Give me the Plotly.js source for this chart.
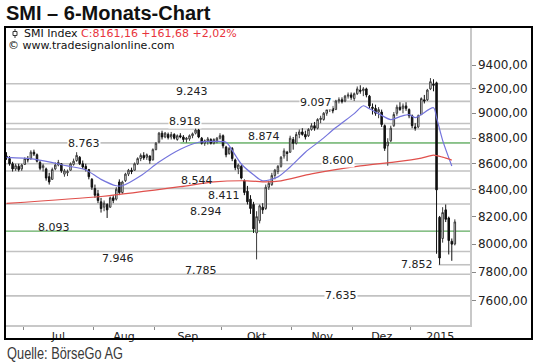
<!DOCTYPE html>
<html><head><meta charset="utf-8">
<script src="https://cdn.plot.ly/plotly-3.0.1.min.js"></script>
<style>html,body{margin:0;padding:0;background:#fff;}#chart{width:540px;height:363px;}</style>
</head><body><div id="chart"></div>
<script>
// ---------- data ----------
const dates = [
'2014-06-23','2014-06-24','2014-06-25','2014-06-26','2014-06-27','2014-06-30',
'2014-07-01','2014-07-02','2014-07-03','2014-07-04','2014-07-07','2014-07-08','2014-07-09','2014-07-10','2014-07-11','2014-07-14','2014-07-15','2014-07-16','2014-07-17','2014-07-18','2014-07-21','2014-07-22','2014-07-23','2014-07-24','2014-07-25','2014-07-28','2014-07-29','2014-07-30','2014-07-31',
'2014-08-04','2014-08-05','2014-08-06','2014-08-07','2014-08-08','2014-08-11','2014-08-12','2014-08-13','2014-08-14','2014-08-15','2014-08-18','2014-08-19','2014-08-20','2014-08-21','2014-08-22','2014-08-25','2014-08-26','2014-08-27','2014-08-28','2014-08-29',
'2014-09-01','2014-09-02','2014-09-03','2014-09-04','2014-09-05','2014-09-08','2014-09-09','2014-09-10','2014-09-11','2014-09-12','2014-09-15','2014-09-16','2014-09-17','2014-09-18','2014-09-19','2014-09-22','2014-09-23','2014-09-24','2014-09-25','2014-09-26','2014-09-29','2014-09-30',
'2014-10-01','2014-10-02','2014-10-03','2014-10-06','2014-10-07','2014-10-08','2014-10-09','2014-10-10','2014-10-13','2014-10-14','2014-10-15','2014-10-16','2014-10-17','2014-10-20','2014-10-21','2014-10-22','2014-10-23','2014-10-24','2014-10-27','2014-10-28','2014-10-29','2014-10-30','2014-10-31',
'2014-11-03','2014-11-04','2014-11-05','2014-11-06','2014-11-07','2014-11-10','2014-11-11','2014-11-12','2014-11-13','2014-11-14','2014-11-17','2014-11-18','2014-11-19','2014-11-20','2014-11-21','2014-11-24','2014-11-25','2014-11-26','2014-11-27','2014-11-28',
'2014-12-01','2014-12-02','2014-12-03','2014-12-04','2014-12-05','2014-12-08','2014-12-09','2014-12-10','2014-12-11','2014-12-12','2014-12-15','2014-12-16','2014-12-17','2014-12-18','2014-12-19','2014-12-22','2014-12-23','2014-12-29','2014-12-30',
'2015-01-05','2015-01-06','2015-01-07','2015-01-08','2015-01-09','2015-01-12','2015-01-13','2015-01-14','2015-01-15','2015-01-16','2015-01-19','2015-01-20','2015-01-21','2015-01-22','2015-01-23'
];
const open = [
8660,8640,8600,8560,8580,8560,
8595,8640,8640,8690,8670,8610,8570,8560,8500,8480,8560,8590,8600,8520,8530,8550,8595,8625,8650,8600,8580,8555,8480,
8410,8370,8310,8270,8290,8270,8340,8330,8460,8380,8470,8520,8550,8550,8600,8640,8665,8650,8660,8630,
8710,8770,8840,8810,8830,8810,8830,8790,8820,8810,8790,8795,8820,8840,8865,8800,8760,8780,8790,8760,8780,8800,
8820,8730,8680,8720,8630,8560,8580,8470,8390,8330,8290,8080,8170,8270,8260,8420,8440,8510,8540,8580,8660,8690,8690,
8790,8760,8830,8850,8830,8820,8870,8900,8880,8950,8950,9000,9030,9040,9030,9100,9110,9100,9140,9150,
9120,9160,9190,9185,9200,9140,9050,9040,9010,9010,8900,8740,8780,8900,9000,9050,9040,9060,9030,
8980,8890,8890,8990,9110,9110,9200,9240,9250,8195,8040,8250,8190,8020,8000
];
const high = [
8690,8660,8615,8600,8600,8600,
8650,8660,8705,8710,8680,8625,8600,8570,8530,8570,8610,8630,8605,8560,8555,8610,8640,8690,8660,8625,8600,8560,8490,
8440,8400,8340,8320,8300,8350,8360,8420,8480,8470,8530,8560,8570,8610,8650,8680,8690,8680,8665,8720,
8770,8850,8860,8850,8845,8850,8840,8830,8840,8825,8810,8830,8845,8880,8875,8810,8790,8810,8800,8800,8810,8840,
8830,8740,8730,8730,8640,8600,8590,8480,8430,8360,8310,8240,8290,8300,8440,8470,8530,8560,8590,8660,8720,8700,8820,
8810,8850,8870,8880,8860,8880,8920,8930,8960,8980,9010,9040,9070,9060,9110,9130,9130,9150,9170,9170,
9170,9220,9230,9215,9210,9150,9080,9070,9050,9030,8910,8800,8900,9010,9070,9090,9080,9090,9040,
8990,8920,8990,9130,9150,9200,9290,9280,9260,8205,8270,8290,8200,8040,8180
];
const low = [
8630,8585,8540,8545,8540,8545,
8590,8610,8630,8660,8610,8550,8540,8470,8440,8475,8550,8580,8530,8500,8505,8545,8585,8615,8590,8560,8540,8480,8400,
8340,8300,8230,8240,8190,8265,8300,8320,8360,8370,8460,8505,8520,8545,8590,8620,8630,8630,8600,8625,
8705,8760,8790,8800,8790,8790,8790,8780,8800,8770,8765,8780,8800,8830,8800,8750,8740,8750,8750,8750,8760,8790,
8720,8650,8670,8620,8550,8520,8480,8360,8290,8220,8080,7890,8150,8220,8250,8400,8430,8480,8520,8570,8640,8620,8685,
8710,8750,8800,8820,8790,8810,8860,8860,8870,8920,8940,8980,9010,9000,9030,9080,9080,9090,9120,9110,
9100,9150,9160,9140,9130,9040,8990,8980,8960,8890,8700,8585,8770,8890,8980,9020,9000,9020,8960,
8880,8860,8880,8985,9080,9100,9190,9180,7930,7852,8010,8160,7925,7880,7990
];
const close = [
8645,8600,8560,8585,8555,8590,
8640,8630,8690,8675,8620,8565,8585,8490,8460,8555,8590,8610,8545,8545,8540,8600,8620,8665,8600,8575,8560,8500,8420,
8360,8320,8260,8300,8250,8340,8320,8405,8380,8460,8520,8550,8540,8600,8640,8665,8645,8670,8625,8710,
8760,8840,8810,8840,8805,8830,8800,8820,8810,8790,8800,8820,8835,8865,8810,8760,8780,8795,8760,8790,8800,8820,
8740,8670,8720,8640,8570,8590,8490,8380,8310,8260,8110,8200,8280,8250,8420,8450,8510,8550,8580,8650,8700,8680,8800,
8760,8830,8850,8830,8810,8870,8900,8880,8950,8960,9000,9030,9050,9020,9100,9110,9095,9140,9150,9130,
9160,9200,9180,9200,9150,9060,9040,9000,9030,8910,8720,8770,8880,8990,9050,9030,9060,9040,8980,
8900,8880,8980,9120,9100,9190,9260,9230,8400,7900,8230,8180,8025,7999,8161
];
// short moving average (blue), read at sample dates
const maFastDates = ['2014-06-23','2014-07-04','2014-07-21','2014-07-29','2014-08-06','2014-08-13','2014-08-15','2014-08-25','2014-09-02','2014-09-11','2014-09-19','2014-09-26','2014-10-02','2014-10-06','2014-10-09','2014-10-15','2014-10-20','2014-10-27','2014-10-31','2014-11-07','2014-11-14','2014-11-21','2014-12-01','2014-12-04','2014-12-08','2014-12-11','2014-12-17','2014-12-22','2014-12-30','2015-01-06','2015-01-14','2015-01-15','2015-01-19','2015-01-22'];
const maFastVals  = [8650,8636,8583,8552,8480,8431,8431,8507,8613,8713,8768,8775,8768,8705,8598,8515,8469,8499,8575,8690,8783,8885,8997,9061,9037,8997,8949,8973,8989,8965,9045,8965,8783,8583];
// long moving average (red)
const maSlowDates = ['2014-06-23','2014-08-06','2014-09-11','2014-09-26','2014-10-13','2014-10-21','2014-10-28','2014-11-11','2014-12-03','2014-12-18','2015-01-08','2015-01-14','2015-01-19','2015-01-22'];
const maSlowVals  = [8298,8350,8424,8461,8469,8461,8469,8522,8583,8613,8644,8667,8651,8628];
// horizontal support / resistance levels
const levels      = [9243,9097,8918,8874,8763,8600,8544,8411,8294,8093,7946,7852,7785,7635];
const levelStart  = [null,null,null,null,null,null,null,null,null,null,null,'2015-01-16',null,null];
const greenLevels = [8763,8093];
const greenStart  = ['2014-09-11','2014-06-23'];
// axis ticks
const yTicks = [7600,7800,8000,8200,8400,8600,8800,9000,9200,9400];
const yTickText = ['7600,00','7800,00','8000,00','8200,00','8400,00','8600,00','8800,00','9000,00','9200,00','9400,00'];
const monthLabels = ['Jul','Aug','Sep','Okt','Nov','Dez','2015'];
const seriesName = 'SMI Index';
const quoteText = 'C:8161,16 +161,68 +2,02%';
const sourceText = '\u00a9 www.tradesignalonline.com';
const titleText = 'SMI \u2013 6-Monats-Chart';
const creditText = 'Quelle: B\u00f6rseGo AG';

// ---------- layout helpers ----------
const idx = dates.map((d,i)=>i);
const pos = d => dates.indexOf(d);
const X0 = -0.16, X1 = 151.97;
// label placement: [x index, yshift px, white background]
const labelPlace = [
 [60.8,-8,false],[101.5,-1.5,true],[58.5,1.5,true],[84.4,-8,false],[25.4,-1,true],
 [108.7,3,true],[62.5,-9,false],[71.3,-7.5,false],[65.4,-8,false],[15.6,4,false],
 [36.6,-6.5,false],[134.6,0,false],[63.8,4,false],[109.7,0,true]
];
// month boundaries and label centers
const starts = [];
for (let i=1;i<dates.length;i++) if (dates[i].slice(0,7)!==dates[i-1].slice(0,7)) starts.push(i);
const bounds = starts.map(i=>i-0.5);
const mids = starts.map((s,k)=>{
  const e = k+1<starts.length ? starts[k+1]-0.5 : X1;
  return (s-0.5+e)/2;
});

const fmtLevel = v => { const s=String(v); return s.slice(0,1)+'.'+s.slice(1); };

const plotL=6, plotR=470, plotT=27, plotB=325;
const pw = plotR-plotL, ph = plotB-plotT;
const paperX = x => (x-plotL)/pw;
const paperY = y => (plotB-y)/ph;

const shapes = [];
levels.forEach((v,k)=>{
  const s = levelStart[k];
  shapes.push({type:'line', layer:'below', xref: 'x', yref:'y',
    x0: s===null ? X0 : pos(s)-0.3, x1: X1, y0:v, y1:v,
    line:{color:'#c2c2c2', width:1.6}});
});
greenLevels.forEach((v,k)=>{
  shapes.push({type:'line', layer:'below', xref:'x', yref:'y',
    x0: k===1 ? X0 : pos(greenStart[k]), x1: X1, y0:v, y1:v,
    line:{color:'#86c286', width:1.6}});
});
// frame
shapes.push({type:'rect', xref:'paper', yref:'paper', x0:paperX(5), x1:paperX(532), y0:paperY(339), y1:paperY(27),
  line:{color:'#000', width:2}, fillcolor:'rgba(0,0,0,0)', layer:'above'});
// legend candle icon
shapes.push({type:'line', xref:'paper', yref:'paper', x0:paperX(15), x1:paperX(15), y0:paperY(29), y1:paperY(38), line:{color:'#333', width:1}});
shapes.push({type:'rect', xref:'paper', yref:'paper', x0:paperX(13), x1:paperX(17), y0:paperY(31.5), y1:paperY(35.5), line:{color:'#333', width:1}, fillcolor:'#fff'});

const annotations = levels.map((v,k)=>({
  xref:'x', yref:'y', x:labelPlace[k][0], y:Math.log10(v), yshift:labelPlace[k][1],
  text: fmtLevel(v), showarrow:false, xanchor:'center', yanchor:'middle',
  font:{family:'DejaVu Sans', size:11, color:'#222'},
  bgcolor: labelPlace[k][2] ? '#ffffff' : 'rgba(0,0,0,0)', borderpad:0
}));
annotations.push({xref:'paper', yref:'paper', x:paperX(22), y:paperY(33.5), xanchor:'left', yanchor:'middle', showarrow:false,
  text: seriesName + ' <span style="color:#e8333c">' + quoteText + '</span>',
  font:{family:'DejaVu Sans', size:11, color:'#111'}});
annotations.push({xref:'paper', yref:'paper', x:paperX(6), y:paperY(46), xanchor:'left', yanchor:'middle', showarrow:false,
  text: sourceText, font:{family:'DejaVu Sans', size:11, color:'#111'}});
annotations.push({xref:'paper', yref:'paper', x:paperX(5), y:paperY(353), xanchor:'left', yanchor:'middle', showarrow:false,
  text: creditText, font:{family:'Liberation Sans', size:16, color:'#3a3a3a'}});

const traces = [
 {type:'candlestick', x:idx, open:open, high:high, low:low, close:close,
  increasing:{line:{color:'#3a3a3a', width:1}, fillcolor:'#ffffff'},
  decreasing:{line:{color:'#111111', width:1}, fillcolor:'#111111'},
  whiskerwidth:0, hoverinfo:'skip', showlegend:false},
 {type:'scatter', mode:'lines', x:maFastDates.map(pos), y:maFastVals,
  line:{color:'#7474dc', width:1.2, shape:'spline', smoothing:0.8}, hoverinfo:'skip', showlegend:false},
 {type:'scatter', mode:'lines', x:maSlowDates.map(pos), y:maSlowVals,
  line:{color:'#e0504c', width:1.2, shape:'spline', smoothing:0.6}, hoverinfo:'skip', showlegend:false}
];

const layout = {
  width:540, height:363, paper_bgcolor:'#fff', plot_bgcolor:'#fff',
  margin:{l:plotL, r:540-plotR, t:plotT, b:363-plotB, pad:0},
  showlegend:false,
  title:{text:titleText, xref:'container', yref:'container', x:6/540, xanchor:'left', y:1-13/363, yanchor:'middle',
    font:{family:'Liberation Sans', size:20, color:'#111', weight:'bold'}},
  xaxis:{type:'linear', range:[X0,X1], showgrid:false, zeroline:false, fixedrange:true,
    showline:true, linecolor:'#c8c8c8', linewidth:1.5,
    tickmode:'array', tickvals:mids, ticktext:monthLabels, ticks:'', ticklen:0,
    tickfont:{family:'DejaVu Sans', size:11, color:'#222'},
    minor:{tickmode:'array', tickvals:bounds, ticks:'outside', ticklen:3, tickcolor:'#888', tickwidth:1, showgrid:false},
    rangeslider:{visible:false}},
  yaxis:{type:'log', side:'right', range:[3.87141, 3.98800], showgrid:false, zeroline:false, fixedrange:true,
    showline:true, linecolor:'#c8c8c8', linewidth:1.5, mirror:false,
    tickmode:'array', tickvals:yTicks, ticktext:yTickText, ticks:'outside', ticklen:4, tickcolor:'#888',
    tickfont:{family:'DejaVu Sans', size:12, color:'#222'}},
  shapes:shapes, annotations:annotations
};
Plotly.newPlot('chart', traces, layout, {displayModeBar:false, staticPlot:true}).then(function(){
  // condense the source line horizontally, as in the original
  document.querySelectorAll('.annotation-text').forEach(function(t){
    if (t.textContent === creditText) {
      t.style.transformBox = 'fill-box';
      t.style.transformOrigin = 'left center';
      t.style.transform = 'scaleX(0.8)';
    }
  });
});
</script></body></html>
